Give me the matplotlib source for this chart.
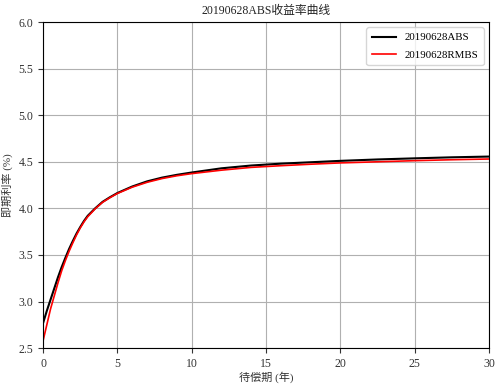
import numpy as np
import matplotlib
matplotlib.use("Agg")
import matplotlib.pyplot as plt

plt.rcParams['font.family'] = ['Liberation Serif', 'Noto Sans CJK SC']
plt.rcParams['axes.unicode_minus'] = False

# term (years) and spot rates (%)
term = [0, 0.25, 0.5, 0.75, 1, 1.25, 1.5, 1.75, 2, 2.25, 2.5, 2.75, 3, 3.5, 4,
        4.5, 5, 6, 7, 8, 9, 10, 12, 14, 16, 18, 20, 22.5, 25, 27.5, 30]
abs_rate = [2.77, 2.90, 3.02, 3.14, 3.26, 3.37, 3.47, 3.565, 3.65, 3.73, 3.80,
            3.865, 3.92, 4.00, 4.07, 4.12, 4.165, 4.235, 4.29, 4.33, 4.36,
            4.385, 4.43, 4.46, 4.48, 4.495, 4.51, 4.525, 4.537, 4.548, 4.556]
rmbs_rate = [2.58, 2.75, 2.92, 3.06, 3.20, 3.33, 3.44, 3.54, 3.63, 3.715, 3.79,
             3.855, 3.91, 3.995, 4.065, 4.115, 4.16, 4.228, 4.28, 4.32, 4.35,
             4.373, 4.41, 4.44, 4.458, 4.474, 4.488, 4.50, 4.512, 4.522, 4.53]

fig, ax = plt.subplots(figsize=(5.01, 3.86), dpi=100)
fig.subplots_adjust(left=0.086, right=0.976, top=0.943, bottom=0.098)

ax.plot(term, abs_rate, color='black', lw=1.5, label='20190628ABS')
ax.plot(term, rmbs_rate, color='red', lw=1.2, label='20190628RMBS')

ax.set_xlim(0, 30)
ax.set_ylim(2.5, 6.0)
ax.set_xticks(np.arange(0, 31, 5))
ax.set_yticks(np.arange(2.5, 6.01, 0.5))
ax.tick_params(labelsize=8.5, colors='#333333')
ax.grid(True, color='#b0b0b0', lw=0.8)

ax.set_title('20190628ABS收益率曲线', fontsize=8.5, color='#222222')
ax.set_xlabel('待偿期 (年)', fontsize=8, color='#333333', labelpad=1)
ax.set_ylabel('即期利率 (%)', fontsize=8, color='#333333')
ax.legend(loc='upper right', fontsize=7.8, handlelength=2.2, labelspacing=0.7,
          borderpad=0.5)

fig.savefig('out.png', dpi=100)
